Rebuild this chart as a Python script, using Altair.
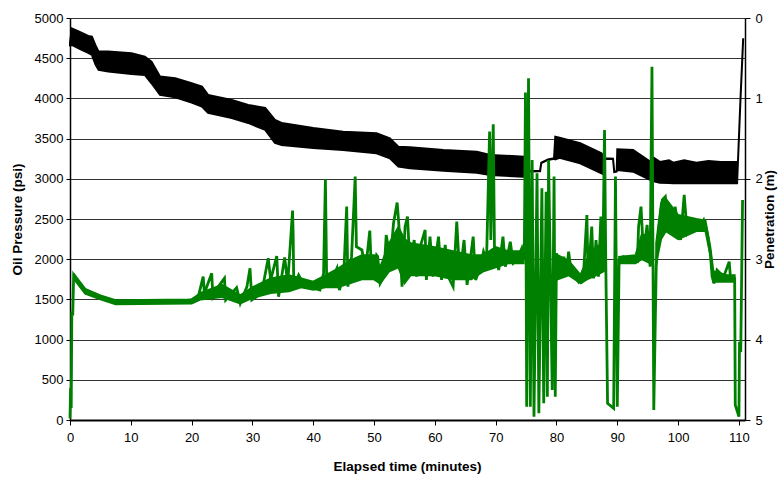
import altair as alt
import pandas as pd

# ---- Oil pressure (psi), green series: trace with its spikes ----
oil_time = [0, 0.1, 0.2, 0.3, 0.45, 0.6, 0.75, 1.37, 2.47, 4.66, 7.4, 10.1, 15.6, 20,
            21.1, 21.9, 22.1, 23.3, 23.5, 24.4, 25.4, 25.6, 27.4, 28, 29.1, 29.6, 29.9,
            31.5, 32.6, 33, 34, 34.3, 35.3, 35.8, 36.6, 36.7, 36.8, 37.6, 38.6, 40,
            41.1, 41.7, 42, 42.2, 42.8, 43.9, 44.3, 45, 45.5, 45.7, 46.3, 46.9, 47.1,
            48, 48.6, 49.3, 49.6, 50.4, 50.6, 51, 51.6, 52, 52.7, 53.2, 53.8, 54.1,
            54.6, 55.1, 55.5, 55.9, 56.6, 57, 57.6, 58.4, 58.6, 59.2, 59.7, 60.6, 61.1,
            61.7, 62.2, 63, 63.6, 64.1, 64.8, 65.3, 66.3, 66.7, 67.5, 68, 68.5, 69,
            69.2, 69.6, 69.8, 70.5, 71.2, 71.6, 72.4, 72.9, 73.5, 74.3, 74.7, 74.9,
            75.1, 75.4, 75.7, 76, 76.3, 76.8, 77.1, 77.6, 77.9, 78.3, 78.5, 78.7, 79.3,
            79.6, 79.8, 80, 80.6, 81.2, 81.6, 82, 82.4, 83.6, 84.5, 85, 85.2, 85.8,
            86.1, 86.5, 86.9, 87.3, 87.6, 87.9, 88.1, 88.4, 89.4, 89.7, 90, 90.3, 91,
            92.1, 93.3, 93.5, 93.9, 94.3, 94.9, 95.4, 95.7, 96, 96.4, 96.8, 97.4, 97.9,
            98.5, 99.3, 99.5, 100.4, 101, 101.5, 102.6, 103.7, 104.2, 104.8, 105.3,
            105.6, 105.9, 106.4, 107.5, 108.4, 108.6, 109.3, 109.4, 110, 110.1, 110.3,
            110.6]
oil_psi = [20, 400, 150, 1350, 1300, 1800, 1780, 1700, 1596, 1534, 1460, 1460, 1460, 1493,
           1534, 1783, 1576, 1825, 1534, 1659, 1762, 1493, 1646, 1452, 1659, 1887, 1493,
           1576, 2012, 1742, 2040, 1534, 2023, 1700, 2604, 2301, 1659, 1804, 1659, 1640,
           1617, 1825, 2994, 1783, 1700, 1887, 1617, 1783, 2654, 1659, 2032, 3027, 2156,
           2115, 1866, 2355, 1783, 2052, 2032, 1700, 1783, 2301, 1990, 2447, 2704, 2405,
           1659, 2405, 2529, 1907, 2239, 1783, 2156, 2364, 1742, 2280, 1783, 2280, 1742,
           2177, 1783, 1659, 2467, 1783, 2239, 1680, 2280, 1742, 1907, 2094, 1990, 3587,
           2239, 3678, 2156, 1866, 2280, 1907, 2218, 1949, 1990, 2136, 1990, 4072,
           166, 4250, 166, 3234, 41, 3069, 83, 2882, 207, 2840, 290, 3234, 373,
           3027, 290, 2073, 1783, 2032, 1825, 2094, 1845, 1721, 1887, 2550, 1762, 2405,
           1762, 2239, 1783, 2529, 1866, 3608, 1990, 207, 145, 3027, 166, 1990, 2032,
           1990, 1970, 2405, 2654, 2073, 2426, 1907, 4395, 125, 1907, 2364, 2737, 2778,
           2385, 2488, 2654, 2239, 2799, 2322, 2447, 2426, 2488, 2322, 2073,
           1783, 1700, 1866, 1783, 1970, 1783, 1762, 187, 41, 974, 844,
           2737]

# ---- Oil pressure noise envelope (psi): segment, time, low, high ----
band_seg = ["a"] * 30 + ["b"] * 6 + ["c"] * 4 + ["d"] * 10
band_time = [0.8, 2.5, 5, 7.5, 20, 21.5, 25, 28, 30, 33, 36, 38, 40, 42, 44, 46, 48, 50,
             51, 52.5, 54, 55, 56, 60, 63, 66, 68, 70, 72, 74.6,
             80.2, 82, 84, 85, 86.5, 87.8,
             90.3, 93, 94, 95.4,
             96.4, 97.2, 98, 100, 103, 104.5, 105.3, 105.8, 108, 109.3]
band_low = [1740, 1570, 1500, 1440, 1450, 1500, 1530, 1450, 1520, 1580, 1600, 1650, 1620,
            1650, 1650, 1700, 1750, 1750, 1700, 1850, 1900, 1700, 1800, 1800, 1750, 1750,
            1850, 1900, 1950, 1950,
            1750, 1800, 1700, 1750, 1800, 1850,
            1950, 1950, 2000, 1950,
            1950, 2250, 2350, 2250, 2350, 2350, 2050, 1720, 1720, 1720]
band_high = [1800, 1630, 1550, 1490, 1500, 1580, 1680, 1550, 1650, 1760, 1800, 1760, 1720,
             1800, 1880, 1980, 2050, 2050, 1900, 2200, 2400, 2250, 2200, 2150, 2100, 2050,
             2050, 2150, 2100, 2100,
             2050, 1980, 1800, 2000, 2150, 2200,
             2030, 2050, 2300, 2300,
             2200, 2700, 2750, 2550, 2500, 2480, 2150, 1850, 1800, 1800]

# ---- Penetration (m), black band (upper / lower envelope) ----
pen_time = [0, 0.3, 1.5, 3.0, 3.6, 4.2, 4.7, 6.3, 10.1, 12.3, 13.4, 14.8, 17.3, 20.0,
            21.7, 22.7, 26.6, 29.3, 32.1, 33.7, 34.8, 40.0, 44.9, 50.4, 52.6, 54.0,
            55.9, 61.4, 66.9, 69.1, 74.6, 74.9, 75.1, 77.3, 77.5, 78.6, 79.6, 79.8,
            80.5, 83.9, 87.4, 87.6, 87.8, 89.3, 89.5, 89.9, 90.0, 92.6, 95.4, 96.0,
            97.0, 98.5, 99.2, 101.0, 103.0, 105.0, 107.0, 109.6, 109.7, 110.25, 110.7]
pen_top = [0.31, 0.13, 0.17, 0.223, 0.232, 0.34, 0.418, 0.418, 0.439, 0.48, 0.542, 0.729,
           0.75, 0.812, 0.854, 0.957, 1.019, 1.081, 1.118, 1.268, 1.305, 1.367, 1.414,
           1.434, 1.496, 1.60, 1.608, 1.641, 1.662, 1.703, 1.724, 1.74, 1.905, 1.90,
           1.80, 1.76, 1.745, 1.476, 1.49, 1.558, 1.683, 1.71, 1.745, 1.75, 1.91, 1.905,
           1.633, 1.641, 1.787, 1.74, 1.79, 1.77, 1.80, 1.77, 1.80, 1.78, 1.79, 1.787,
           2.05, 1.019, 0.252]
pen_bottom = [0.34, 0.335, 0.38, 0.435, 0.46, 0.58, 0.646, 0.667, 0.696, 0.708, 0.812,
              0.957, 0.986, 1.052, 1.102, 1.181, 1.243, 1.305, 1.392, 1.554, 1.579,
              1.616, 1.641, 1.683, 1.745, 1.849, 1.87, 1.899, 1.924, 1.953, 1.974, 1.97,
              1.91, 1.905, 1.805, 1.765, 1.75, 1.76, 1.74, 1.807, 1.931, 1.94, 1.75,
              1.755, 1.915, 1.91, 1.89, 1.911, 2.014, 2.03, 2.048, 2.052, 2.056, 2.056,
              2.056, 2.056, 2.056, 2.056, 2.056, 1.025, 0.26]

x_ticks = list(range(0, 111, 5))
psi_ticks = list(range(0, 5001, 500))
pen_ticks = [0, 1, 2, 3, 4, 5]

FONT = "Liberation Sans"
GREEN = "#008000"

oil_df = pd.DataFrame({"t": oil_time, "psi": oil_psi})
band_df = pd.DataFrame({"seg": band_seg, "t": band_time, "lo": band_low, "hi": band_high})
pen_df = pd.DataFrame({"t": pen_time, "top": pen_top, "bottom": pen_bottom})

x_scale = alt.Scale(domain=[0, 111], nice=False, zero=False)
x_enc = alt.X(
    "t:Q",
    scale=x_scale,
    axis=alt.Axis(
        values=x_ticks, title="Elapsed time (minutes)", grid=False,
        domainColor="black", domainWidth=2, tickColor="black", tickSize=5,
        labelFont=FONT, labelFontSize=13, labelColor="black", labelPadding=6,
        labelFlush=False, labelOverlap=False,
        titleFont=FONT, titleFontSize=13.5, titleFontWeight="bold", titleColor="black",
        titleX=337, titleY=50, titleBaseline="alphabetic", titleAlign="center",
    ),
)

psi_scale = alt.Scale(domain=[0, 5000], nice=False)

pen = alt.Chart(pen_df).mark_area(
    color="black", stroke="black", strokeWidth=2, opacity=1
).encode(
    x=x_enc,
    y=alt.Y(
        "top:Q",
        scale=alt.Scale(domain=[0, 5], reverse=True, nice=False),
        axis=alt.Axis(
            orient="right", values=pen_ticks, title="Penetration (m)", grid=False,
            format="d",
            domainColor="black", domainWidth=1.5, tickColor="black", tickSize=5,
            labelFont=FONT, labelFontSize=13, labelColor="black", labelPadding=5,
            labelFlush=False,
            titleFont=FONT, titleFontSize=13.5, titleFontWeight="bold",
            titleColor="black", titleAngle=270, titleX=24, titleY=201,
            titleAlign="center", titleBaseline="middle",
        ),
    ),
    y2="bottom:Q",
)

oil_band = alt.Chart(band_df).mark_area(
    color=GREEN, stroke=GREEN, strokeWidth=2, opacity=1
).encode(
    x=alt.X("t:Q", scale=x_scale),
    y=alt.Y("lo:Q", scale=psi_scale),
    y2="hi:Q",
    detail="seg:N",
)

oil_line = alt.Chart(oil_df).mark_line(color=GREEN, strokeWidth=2.8).encode(
    x=x_enc,
    y=alt.Y(
        "psi:Q",
        scale=psi_scale,
        axis=alt.Axis(
            orient="left", values=psi_ticks, title="Oil Pressure (psi)", grid=True,
            format="d", gridColor="#333333", gridWidth=1,
            domainColor="black", domainWidth=1.5, tickColor="black", tickSize=4,
            labelFont=FONT, labelFontSize=13, labelColor="black", labelPadding=3,
            labelFlush=False,
            titleFont=FONT, titleFontSize=13.5, titleFontWeight="bold",
            titleColor="black", titleAngle=270, titleX=-53, titleY=201,
            titleAlign="center", titleBaseline="middle",
        ),
    ),
)

oil = alt.layer(oil_band, oil_line)

chart = (
    alt.layer(pen, oil)
    .resolve_scale(y="independent")
    .properties(
        width=675, height=402,
        autosize=alt.AutoSizeParams(type="none"),
        padding={"left": 70, "top": 18, "right": 34, "bottom": 58},
        background="white",
    )
    .configure_view(stroke=None)
)

chart.save("out.html", embed_options={"renderer": "svg", "actions": False})
